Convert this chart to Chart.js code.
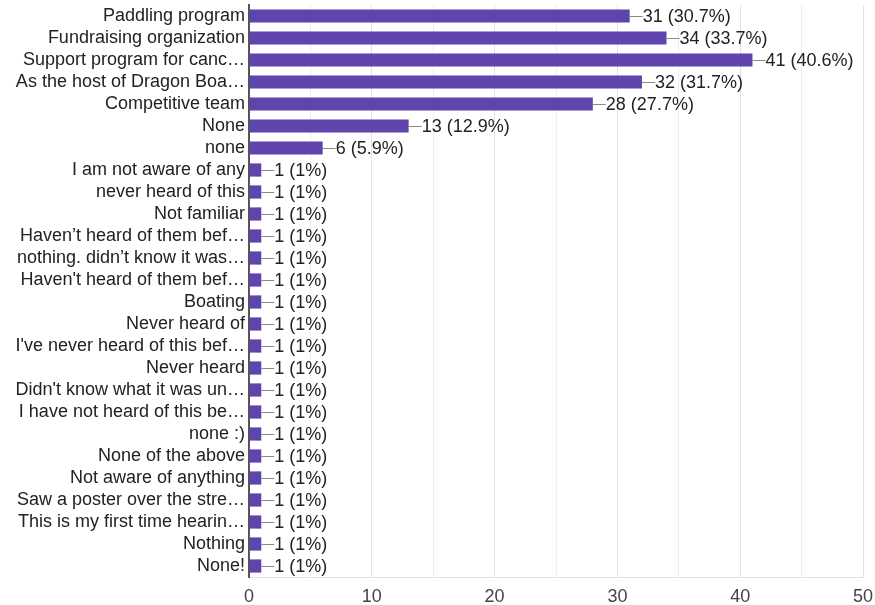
<!DOCTYPE html>
<html lang="en">
<head>
  <meta charset="UTF-8" />
  <title>Awareness responses</title>
  <script src="https://cdn.jsdelivr.net/npm/chart.js"></script>
  <style>
    html, body { margin: 0; padding: 0; background: #fff; }
  </style>
</head>
<body>
  <canvas id="answers" width="875" height="605"></canvas>

  <script>
    const answers = [
      "Paddling program",
      "Fundraising organization",
      "Support program for canc…",
      "As the host of Dragon Boa…",
      "Competitive team",
      "None",
      "none",
      "I am not aware of any",
      "never heard of this",
      "Not familiar",
      "Haven’t heard of them bef…",
      "nothing. didn’t know it was…",
      "Haven't heard of them bef…",
      "Boating",
      "Never heard of",
      "I've never heard of this bef…",
      "Never heard",
      "Didn't know what it was un…",
      "I have not heard of this be…",
      "none :)",
      "None of the above",
      "Not aware of anything",
      "Saw a poster over the stre…",
      "This is my first time hearin…",
      "Nothing",
      "None!"
    ];
    const counts = [31, 34, 41, 32, 28, 13, 6, 1, 1, 1, 1, 1, 1, 1, 1, 1, 1, 1, 1, 1, 1, 1, 1, 1, 1, 1];
    const percents = ["30.7%", "33.7%", "40.6%", "31.7%", "27.7%", "12.9%", "5.9%",
      "1%", "1%", "1%", "1%", "1%", "1%", "1%", "1%", "1%", "1%", "1%", "1%",
      "1%", "1%", "1%", "1%", "1%", "1%", "1%"];
    const xTicks = [0, 10, 20, 30, 40, 50];

    const FONT = '"Liberation Sans", Arial, sans-serif';

    // leader line + "n (p%)" after each bar
    const valueLabels = {
      id: "valueLabels",
      afterDatasetsDraw(chart) {
        const ctx = chart.ctx;
        const meta = chart.getDatasetMeta(0);
        ctx.save();
        ctx.font = "18px " + FONT;
        ctx.textBaseline = "middle";
        ctx.textAlign = "left";
        meta.data.forEach((bar, i) => {
          const y = Math.round(bar.y) + 0.5;
          ctx.strokeStyle = "#8a8a8a";
          ctx.lineWidth = 1;
          ctx.beginPath();
          ctx.moveTo(bar.x, y);
          ctx.lineTo(bar.x + 13, y);
          ctx.stroke();
          ctx.fillStyle = "#222";
          ctx.fillText(counts[i] + " (" + percents[i] + ")", bar.x + 13, bar.y + 1);
        });
        ctx.restore();
      }
    };

    new Chart(document.getElementById("answers"), {
      type: "bar",
      data: {
        labels: answers,
        datasets: [{
          data: counts,
          backgroundColor: "#5f44ad",
          barPercentage: 0.6,
          categoryPercentage: 1
        }]
      },
      options: {
        indexAxis: "y",
        responsive: false,
        animation: false,
        layout: { padding: { top: 5, right: 12, left: 0, bottom: 0 } },
        plugins: {
          legend: { display: false },
          tooltip: { enabled: false }
        },
        scales: {
          x: {
            min: 0,
            max: 50,
            afterFit: (scale) => {
              scale.height = 28;
              scale.paddingLeft = 0;
              scale.paddingRight = 0;
            },
            ticks: {
              stepSize: 5,
              padding: 9,
              color: "#444",
              font: { family: FONT, size: 18 },
              callback: (v) => xTicks.includes(v) ? v : ""
            },
            grid: {
              drawTicks: false,
              color: (c) => c.tick && c.tick.value % 10 === 0 ? "#e2e2e2" : "#eeeeee"
            },
            border: { color: "#e2e2e2" }
          },
          y: {
            afterFit: (scale) => {
              scale.width = 249;
              scale.paddingTop = 0;
              scale.paddingBottom = 0;
            },
            ticks: {
              autoSkip: false,
              padding: 4,
              color: "#222",
              font: { family: FONT, size: 18 }
            },
            grid: { display: false, drawTicks: false },
            border: { color: "#555", width: 2 }
          }
        }
      },
      plugins: [valueLabels]
    });
  </script>
</body>
</html>
